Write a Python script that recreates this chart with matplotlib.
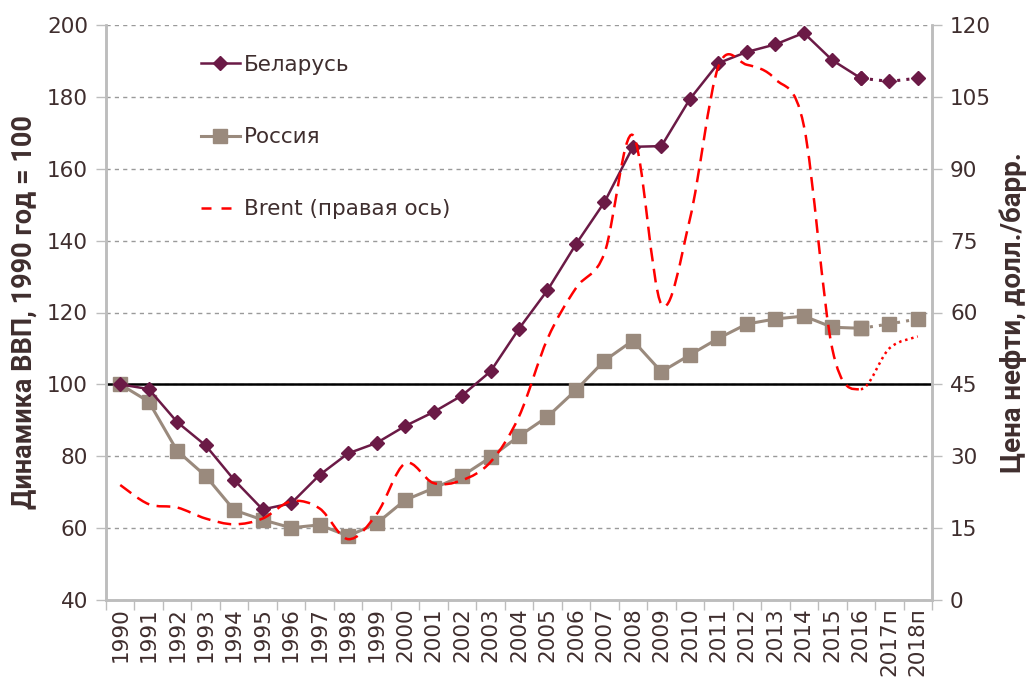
import matplotlib.pyplot as plt
from matplotlib.path import Path
from matplotlib.patches import PathPatch
from matplotlib.lines import Line2D

years = ["1990", "1991", "1992", "1993", "1994", "1995", "1996", "1997", "1998", "1999",
         "2000", "2001", "2002", "2003", "2004", "2005", "2006", "2007", "2008", "2009",
         "2010", "2011", "2012", "2013", "2014", "2015", "2016", "2017п", "2018п"]
belarus = [100, 98.7, 89.5, 83.0, 73.4, 65.2, 66.9, 74.8, 80.8, 83.7,
           88.4, 92.3, 96.9, 103.6, 115.5, 126.2, 139.0, 150.7, 166.1, 166.3,
           179.4, 189.4, 192.5, 194.6, 197.8, 190.2, 185.2, 184.3, 185.2]
russia = [100, 95.2, 81.5, 74.5, 65.0, 62.3, 60.1, 60.9, 57.8, 61.3,
          67.8, 71.1, 74.5, 79.7, 85.6, 91.0, 98.4, 106.6, 112.2, 103.5,
          108.2, 112.8, 116.8, 118.2, 119.0, 115.9, 115.6, 116.8, 118.2]
brent = [24.0, 20.0, 19.3, 17.0, 15.8, 17.0, 20.6, 19.1, 12.7, 17.9,
         28.5, 24.4, 25.0, 28.8, 38.3, 54.5, 65.1, 72.4, 97.0, 61.7,
         79.5, 111.3, 111.7, 108.7, 99.0, 52.4, 44.0, 52.5, 55.0]
last_fact = 26  # 2016; after that - forecast

c_bel = "#6B1A46"
c_rus = "#9A8A7D"
c_txt = "#3F2E2E"
c_axis = "#BDBDBD"

plt.rcParams['font.family'] = ['DejaVu Sans']

fig = plt.figure(figsize=(10.32, 6.81), dpi=100)
ax = fig.add_axes([106/1032, 81/681, 826/1032, 575/681])
ax2 = ax.twinx()

x = list(range(len(years)))
f = last_fact + 1

ax.axhline(100, color="black", lw=1.8, zorder=2)

ax.plot(x[:f], belarus[:f], color=c_bel, lw=1.8, marker="D", ms=7, zorder=4)
ax.plot(x[last_fact:], belarus[last_fact:], color=c_bel, lw=2.2, ls=(0, (1, 2)),
        marker="D", ms=7, zorder=4)
ax.plot(x[:f], russia[:f], color=c_rus, lw=2.2, marker="s", ms=9.5, zorder=3)
ax.plot(x[last_fact:], russia[last_fact:], color=c_rus, lw=2.2, ls=(0, (1, 2)),
        marker="s", ms=9.5, zorder=3)


# smoothed line like in Excel (bezier through the points)
def smooth_path(xs, ys):
    n = len(xs)
    verts = [(xs[0], ys[0])]
    codes = [Path.MOVETO]
    for i in range(n - 1):
        a = max(i - 1, 0)
        b = min(i + 2, n - 1)
        c1 = (xs[i] + (xs[i+1] - xs[a]) / 6, ys[i] + (ys[i+1] - ys[a]) / 6)
        c2 = (xs[i+1] - (xs[b] - xs[i]) / 6, ys[i+1] - (ys[b] - ys[i]) / 6)
        verts += [c1, c2, (xs[i+1], ys[i+1])]
        codes += [Path.CURVE4] * 3
    return verts, codes


verts, codes = smooth_path(x, brent)
k = 1 + 3 * last_fact
p1 = Path(verts[:k], codes[:k])
p2 = Path(verts[k-1:], [Path.MOVETO] + codes[k:])
ax2.add_patch(PathPatch(p1, fill=False, edgecolor="red", lw=1.8, ls=(0, (5.5, 3)), zorder=5))
ax2.add_patch(PathPatch(p2, fill=False, edgecolor="red", lw=1.8, ls=(0, (1, 1.5)), zorder=5))

ax.set_xlim(-0.5, len(years) - 0.5)
ax.set_ylim(40, 200)
ax2.set_ylim(0, 120)
ax.set_yticks(range(40, 201, 20))
ax2.set_yticks(range(0, 121, 15))
ax.set_xticks(x)
ax.set_xticklabels(years, rotation=90)
ax.set_xticks([i - 0.5 for i in range(len(years) + 1)], minor=True)
ax.tick_params(axis="x", which="major", length=0, pad=5, labelsize=15.5, labelcolor=c_txt)
ax.tick_params(axis="x", which="minor", length=7, color=c_axis, width=1)
ax.tick_params(axis="y", length=7, color=c_axis, width=1, labelsize=15.5, labelcolor=c_txt, pad=6)
ax2.tick_params(axis="y", length=7, color=c_axis, width=1, labelsize=15.5, labelcolor=c_txt, pad=6)

ax.yaxis.grid(True, color="#9A9A9A", lw=1, ls=(0, (3, 3)))
ax.set_axisbelow(True)
for a in (ax, ax2):
    a.spines["top"].set_visible(False)
    for s in ("left", "right", "bottom"):
        a.spines[s].set_color(c_axis)
        a.spines[s].set_linewidth(1.8)

lab_font = ["Roboto", "DejaVu Sans"]
ax.set_ylabel("Динамика ВВП, 1990 год = 100", fontsize=19.5, fontweight="bold",
              family=lab_font, color=c_txt)
ax2.set_ylabel("Цена нефти, долл./барр.", fontsize=20, fontweight="bold",
               family=lab_font, color=c_txt)
ax.yaxis.set_label_coords(-0.083, 0.5)
ax2.yaxis.set_label_coords(1.082, 0.5)

handles = [
    Line2D([], [], color=c_bel, lw=1.8, marker="D", ms=7),
    Line2D([], [], color=c_rus, lw=2.2, marker="s", ms=9.5),
    Line2D([], [], color="red", lw=1.8, ls=(0, (4, 4))),
]
fig.legend(handles, ["Беларусь", "Россия", "Brent (правая ось)"],
           loc="upper left", bbox_to_anchor=(201/1032, 1 - 55/681), frameon=False,
           fontsize=15.5, labelcolor=c_txt, labelspacing=2.42, handlelength=1.8,
           handletextpad=0.2, borderpad=0, borderaxespad=0)

fig.savefig("out.png", dpi=100)
